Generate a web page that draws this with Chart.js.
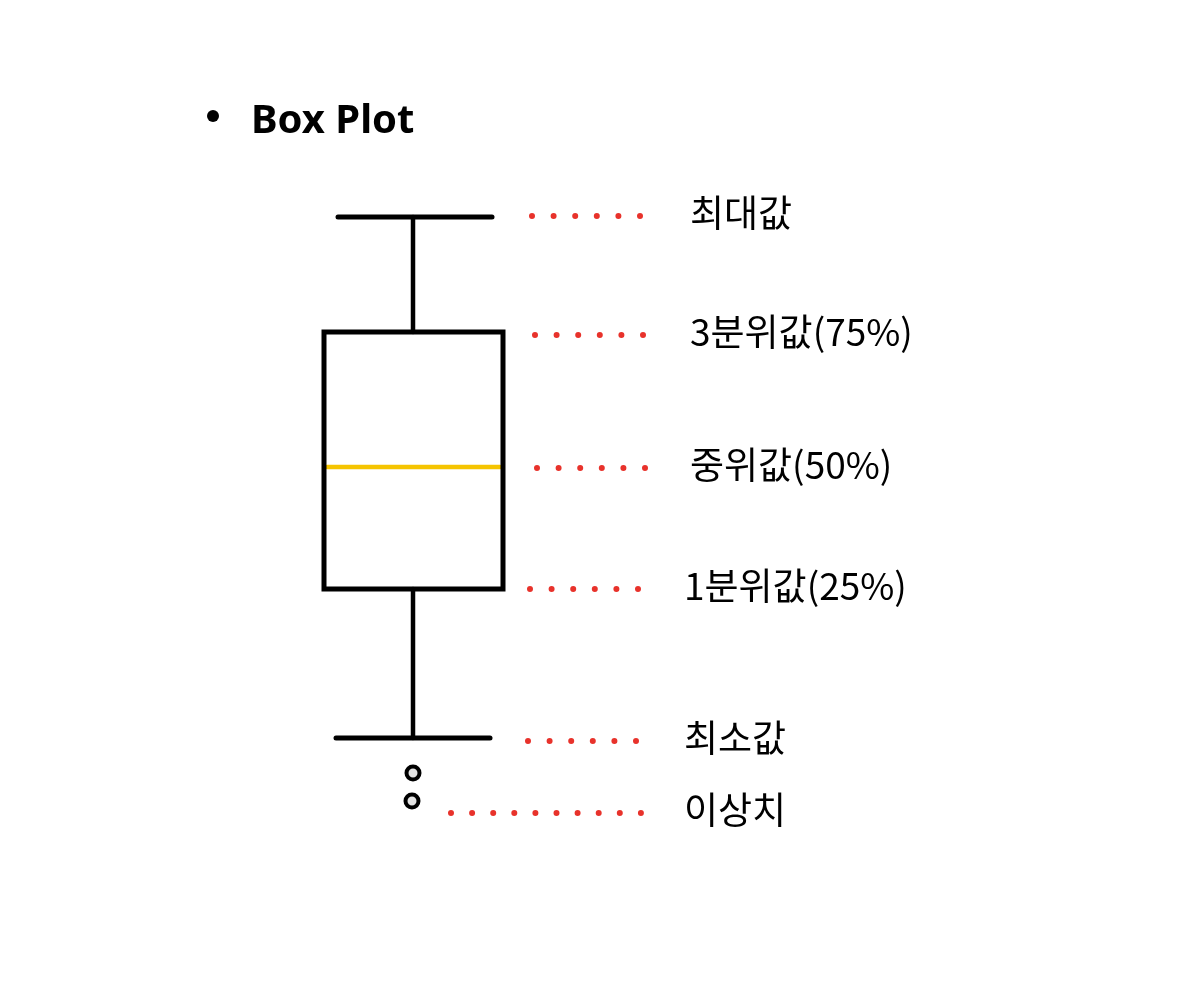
<!DOCTYPE html>
<html>
<head>
<meta charset="utf-8">
<script src="https://cdn.jsdelivr.net/npm/chart.js@4.4.1/dist/chart.umd.min.js"></script>
<style>
  html, body { margin: 0; padding: 0; background: #ffffff; }
  #wrap { width: 1184px; height: 1000px; }
</style>
</head>
<body>
<div id="wrap"><canvas id="boxChart" width="1184" height="1000"></canvas></div>
<script>
// Datos del diagrama (escala vertical 0-100)
var etiquetas = ['최대값', '3분위값(75%)', '중위값(50%)', '1분위값(25%)', '최소값', '이상치'];
var estadisticos = [78.3, 66.8, 53.3, 41.1, 26.2];   // max, Q3, mediana, Q1, min
var atipicos = [22.7, 19.9];
var posicionEtiquetas = [78.4, 66.5, 53.2, 41.1, 25.9, 18.7];
var categoria = 413;   // posicion x de la caja

var titulo = 'Box Plot';

// Estilo
var negro = '#000000';
var amarillo = '#f5c400';
var rojo = '#e8322b';
var mitadCaja = 89;
var mitadBigote = 77;

var maximo = estadisticos[0], q3 = estadisticos[1], mediana = estadisticos[2], q1 = estadisticos[3], minimo = estadisticos[4];

function linea(puntos, color, ancho) {
    return {
        data: puntos,
        showLine: true,
        borderColor: color,
        borderWidth: ancho,
        pointRadius: 0,
        borderCapStyle: 'round',
        borderJoinStyle: 'miter',
        fill: false
    };
}

var datasets = [];

// caja (empieza a mitad del lado superior para que las esquinas queden unidas)
datasets.push(linea([
    {x: categoria, y: q3},
    {x: categoria + mitadCaja + 1, y: q3},
    {x: categoria + mitadCaja + 1, y: q1},
    {x: categoria - mitadCaja, y: q1},
    {x: categoria - mitadCaja, y: q3},
    {x: categoria, y: q3}
], negro, 5));
datasets[0].borderCapStyle = 'butt';

// bigotes
datasets.push(linea([{x: categoria, y: q3}, {x: categoria, y: maximo}], negro, 4.5));
datasets.push(linea([{x: categoria, y: q1}, {x: categoria, y: minimo}], negro, 4.5));
datasets.push(linea([{x: categoria - mitadBigote + 2, y: maximo}, {x: categoria + mitadBigote + 2, y: maximo}], negro, 5));
datasets.push(linea([{x: categoria - mitadBigote, y: minimo}, {x: categoria + mitadBigote, y: minimo}], negro, 5));

// mediana
datasets.push(linea([{x: categoria - mitadCaja + 3, y: mediana}, {x: categoria + mitadCaja - 2, y: mediana}], amarillo, 4.5));

// lineas punteadas rojas
var inicioPuntos = [532, 535, 537, 530, 528, 451];
var finPuntos = [641, 644, 646, 639, 637, 642];
for (var i = 0; i < etiquetas.length; i++) {
    var d = linea([{x: inicioPuntos[i], y: posicionEtiquetas[i]}, {x: finPuntos[i], y: posicionEtiquetas[i]}], rojo, 6);
    d.borderDash = [0, i === 5 ? 21.1 : 21.6];
    datasets.push(d);
}

// valores atipicos
datasets.push({
    data: atipicos.map(function (v, k) { return {x: categoria - k, y: v}; }),
    showLine: false,
    pointRadius: 6.5,
    pointHoverRadius: 6.5,
    pointBorderWidth: 4,
    pointBorderColor: negro,
    pointBackgroundColor: '#e4e4e4'
});

var xEtiquetas = [690, 690, 690, 684, 684, 684];

var textos = {
    id: 'textos',
    afterDatasetsDraw: function (chart) {
        var ctx = chart.ctx;
        var y = chart.scales.y;
        ctx.save();
        ctx.fillStyle = '#000';
        ctx.font = '37px "Noto Sans CJK KR"';
        ctx.textBaseline = 'middle';
        ctx.textAlign = 'left';
        for (var i = 0; i < etiquetas.length; i++) {
            ctx.fillText(etiquetas[i], xEtiquetas[i], y.getPixelForValue(posicionEtiquetas[i]) - 3);
        }
        // titulo
        ctx.beginPath();
        ctx.arc(213, 116, 6, 0, Math.PI * 2);
        ctx.fill();
        ctx.font = 'bold 40px "Noto Sans"';
        ctx.textBaseline = 'alphabetic';
        ctx.fillText(titulo, 251, 133);
        ctx.restore();
    }
};

var ctx = document.getElementById('boxChart').getContext('2d');
new Chart(ctx, {
    type: 'scatter',
    data: { datasets: datasets },
    options: {
        responsive: false,
        animation: false,
        events: [],
        layout: { padding: 0, autoPadding: false },
        plugins: {
            legend: { display: false },
            tooltip: { enabled: false },
            title: { display: false }
        },
        scales: {
            x: { type: 'linear', min: 0, max: 1184, display: false },
            y: { type: 'linear', min: 0, max: 100, display: false }
        }
    },
    plugins: [textos]
});
</script>
</body>
</html>
